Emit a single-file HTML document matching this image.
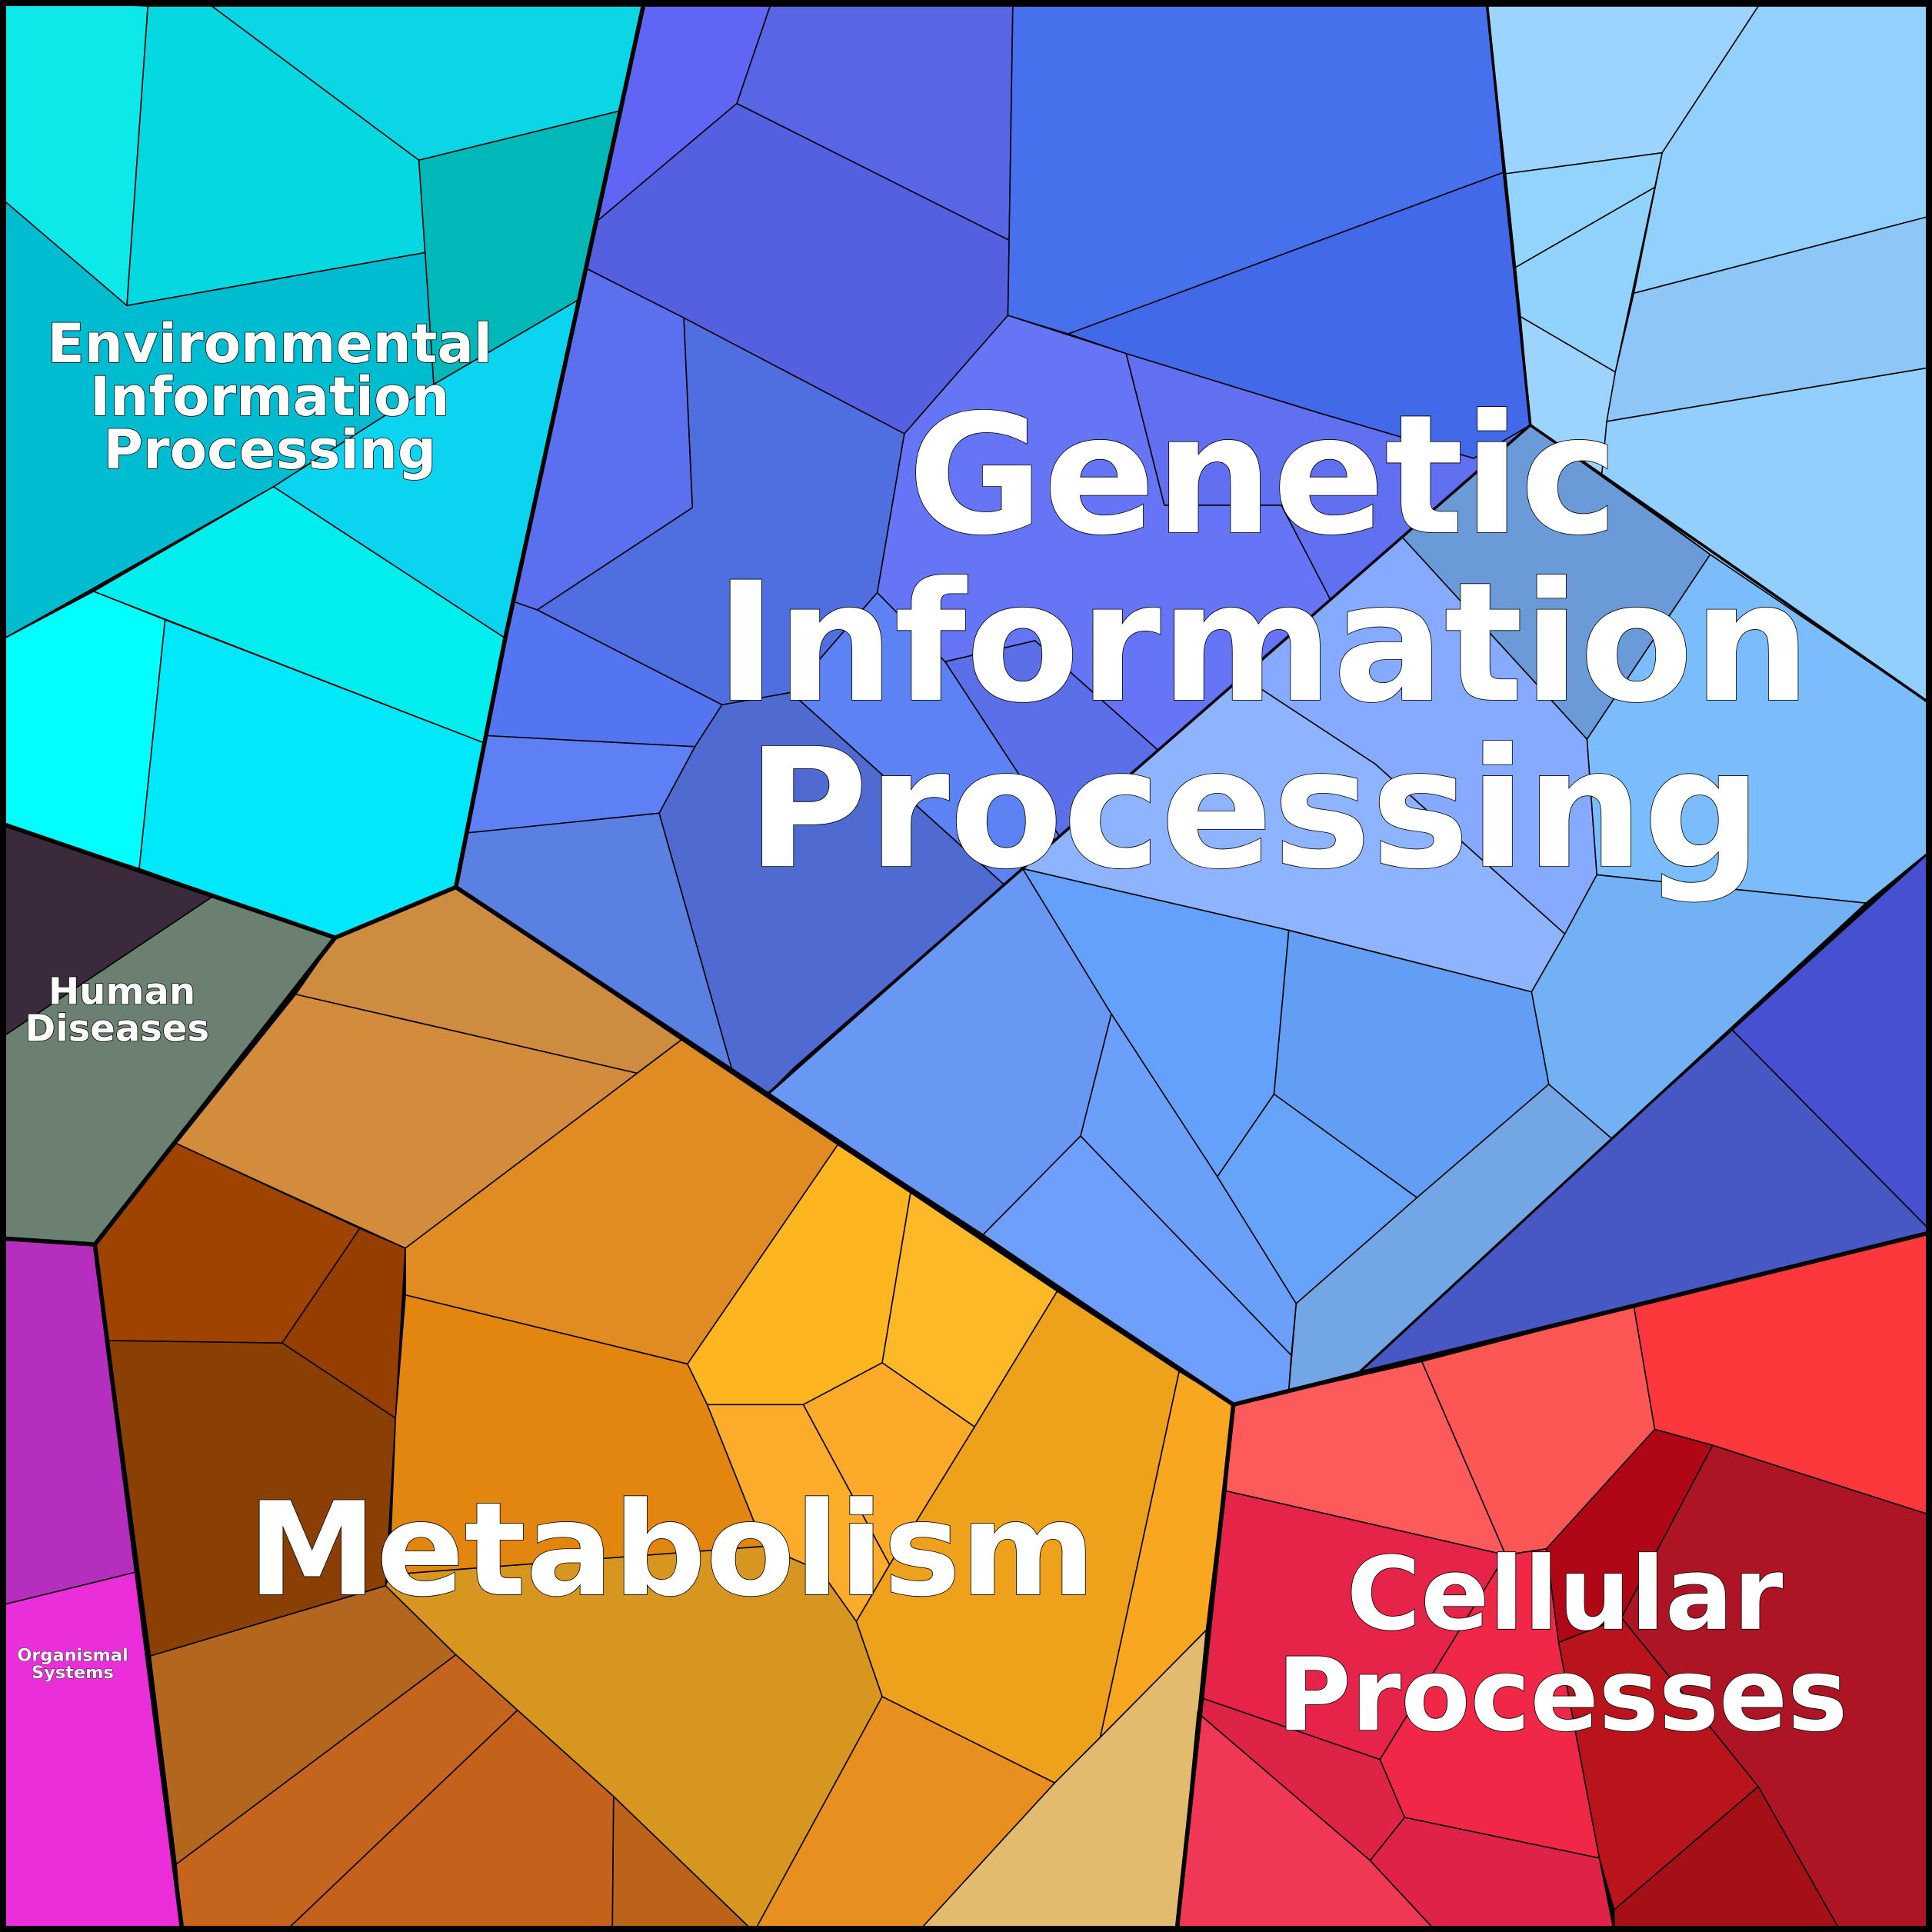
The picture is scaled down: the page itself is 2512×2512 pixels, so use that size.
<!DOCTYPE html>
<html><head><meta charset="utf-8"><style>
html,body{margin:0;padding:0;background:#000}
svg{display:block}
text{font-family:"DejaVu Sans","Liberation Sans",sans-serif;font-weight:bold;fill:#fff;stroke:#000;stroke-width:1;paint-order:stroke;text-anchor:middle}
</style></head><body>
<svg width="2512" height="2512" viewBox="0 0 1568 1568" xmlns="http://www.w3.org/2000/svg">
<g stroke="#000" stroke-width="1" stroke-linejoin="round">
<!-- Environmental -->
<polygon fill="#0de8e8" points="0,0 120,5 103,248 0,160"/>
<polygon fill="#05d8e0" points="120,5 172,5 340,130 345,205 103,248"/>
<polygon fill="#0bd6e6" points="172,5 522,5 503,90 340,130"/>
<polygon fill="#00b8b8" points="340,130 503,90 470,243 352,312"/>
<polygon fill="#00bcd0" points="0,160 103,248 345,205 352,312 222,395 0,520"/>
<polygon fill="#0bd4f0" points="352,312 470,243 410,518 222,395"/>
<polygon fill="#00eeee" points="222,395 410,518 393,603 76,480"/>
<polygon fill="#00ffff" points="0,520 76,480 134,503 113,705 0,668"/>
<polygon fill="#00e8fa" points="134,503 393,603 370,720 272,761 113,705"/>
<!-- Human diseases -->
<polygon fill="#3b2a3b" points="0,668 172,728 0,843"/>
<polygon fill="#6b8070" points="0,843 172,728 272,761 77,1010 0,1005"/>
<!-- Organismal -->
<polygon fill="#b52ebe" points="0,1005 77,1010 110,1276 0,1303"/>
<polygon fill="#ea2ed9" points="0,1303 110,1276 148,1568 0,1568"/>
<!-- Metabolism -->
<polygon fill="#cd8c3f" points="272,761 370,720 553,844 517,871 240,807"/>
<polygon fill="#d38b3c" points="240,807 517,871 553,844 329,1013 143,928"/>
<polygon fill="#9e4300" points="143,928 292,997 229,1090 88,1088 77,1010"/>
<polygon fill="#963d00" points="292,997 329,1013 321,1151 229,1090"/>
<polygon fill="#8a4005" points="88,1088 229,1090 321,1151 313,1287 122,1344"/>
<polygon fill="#e08c22" points="329,1013 553,844 680,929 558,1107 329,1051"/>
<polygon fill="#e3860f" points="329,1051 558,1107 574,1140 620,1255 316,1278 321,1151"/>
<polygon fill="#fdb520" points="680,929 739,968 716,1106 652,1140 574,1140 558,1107"/>
<polygon fill="#fdb928" points="739,968 858,1048 791,1158 716,1106"/>
<polygon fill="#fbac2a" points="574,1140 652,1140 722,1270 695,1316 666,1275 620,1255"/>
<polygon fill="#fda929" points="652,1140 716,1106 791,1158 722,1270"/>
<polygon fill="#eea11a" points="858,1048 957,1113 893,1410 856,1447 716,1377 695,1316 722,1270 791,1158"/>
<polygon fill="#f9a721" points="957,1113 1001,1140 979,1323 893,1410"/>
<polygon fill="#b2661e" points="313,1287 370,1343 143,1513 122,1344"/>
<polygon fill="#d6961f" points="316,1278 620,1255 666,1275 695,1316 716,1377 612,1568 498,1458 370,1343 313,1287"/>
<polygon fill="#c5641c" points="370,1343 420,1388 231,1568 148,1568 143,1513"/>
<polygon fill="#c4621b" points="420,1388 498,1458 497,1568 231,1568"/>
<polygon fill="#bb6318" points="498,1458 612,1568 497,1568"/>
<polygon fill="#e78f1f" points="716,1377 856,1447 745,1568 612,1568"/>
<polygon fill="#e3bb6e" points="856,1447 893,1410 979,1323 955,1568 745,1568"/>
<!-- Genetic (purple/blue) -->
<polygon fill="#6066f3" points="522,5 625,5 598,84 484,180"/>
<polygon fill="#5865e4" points="625,5 822,5 819,195 598,84"/>
<polygon fill="#5460e0" points="484,180 598,84 819,195 818,256 734,352 555,258 476,218"/>
<polygon fill="#4670ec" points="822,5 1207,5 1220,140 867,271 818,256 819,195"/>
<polygon fill="#4169e8" points="867,271 1220,140 1242,345 1196,372 1070,335 914,287"/>
<polygon fill="#5a70ee" points="476,218 555,258 562,412 436,495 416,488"/>
<polygon fill="#4f6ee0" points="555,258 734,352 712,481 642,562 586,572 436,495 562,412"/>
<polygon fill="#5475f2" points="416,488 436,495 586,572 564,606 394,597"/>
<polygon fill="#5d80f5" points="394,597 564,606 535,660 379,676"/>
<polygon fill="#5a80e2" points="379,676 535,660 594,868 623,888 370,720"/>
<polygon fill="#4f6ad0" points="586,572 642,562 815,718 645,866 623,888 594,868 535,660 564,606"/>
<polygon fill="#6675f5" points="734,352 818,256 914,287 945,410 1040,410 1080,487 940,609 840,520 767,537 712,481"/>
<polygon fill="#6070f0" points="914,287 1070,335 1196,372 1242,345 1138,436 1080,487 1040,410 945,410"/>
<polygon fill="#5b6fe8" points="767,537 840,520 940,609 860,679"/>
<polygon fill="#5d82f4" points="642,562 712,481 767,537 860,679 815,718"/>
<!-- right blue -->
<polygon fill="#6b9ad8" points="1242,345 1388,450 1288,600 1138,436"/>
<polygon fill="#85aaff" points="1008,549 1080,487 1138,436 1288,600 1296,710 1270,758 1116,620"/>
<polygon fill="#8eb4ff" points="830,705 860,679 940,609 1008,549 1116,620 1270,758 1243,805 1046,755"/>
<polygon fill="#7bbdfc" points="1388,450 1568,572 1568,690 1515,733 1296,710 1288,600"/>
<polygon fill="#72b2f4" points="1296,710 1515,733 1308,924 1257,880 1243,805 1270,758"/>
<polygon fill="#6898f4" points="623,888 815,718 830,705 902,823 877,922 798,1002"/>
<polygon fill="#63a1fc" points="830,705 1046,755 1034,888 988,955 902,823"/>
<polygon fill="#629ff4" points="1046,755 1243,805 1257,880 1150,972 1034,888"/>
<polygon fill="#6aa0fa" points="902,823 988,955 1052,1058 1048,1100 877,922"/>
<polygon fill="#66a4fa" points="988,955 1034,888 1150,972 1052,1058"/>
<polygon fill="#6e9ffc" points="798,1002 877,922 1048,1100 1046,1128 1001,1140"/>
<polygon fill="#72a6e4" points="1052,1058 1150,972 1257,880 1308,924 1104,1113 1046,1128"/>
<polygon fill="#4758c4" points="1308,924 1406,836 1568,1000 1104,1113"/>
<polygon fill="#4650d0" points="1406,836 1568,690 1568,1000"/>
<!-- top right -->
<polygon fill="#9dd3ff" points="1207,5 1427,5 1349,124 1222,141"/>
<polygon fill="#92d1fd" points="1427,5 1568,5 1568,175 1326,238 1349,124"/>
<polygon fill="#93d4fc" points="1222,141 1349,124 1343,152 1230,217"/>
<polygon fill="#91d3fc" points="1230,217 1343,152 1311,302 1234,257"/>
<polygon fill="#9cd4ff" points="1234,257 1311,302 1300,385 1242,345"/>
<polygon fill="#8ec6f8" points="1326,238 1568,175 1568,298 1304,342 1311,302"/>
<polygon fill="#92cefe" points="1304,342 1568,298 1568,572 1388,450 1300,385"/>
<!-- Cellular -->
<polygon fill="#fd5a5c" points="1001,1140 1154,1105 1222,1262 995,1210"/>
<polygon fill="#fc5655" points="1154,1105 1326,1060 1343,1160 1255,1257 1222,1262"/>
<polygon fill="#fd383c" points="1326,1060 1568,1000 1568,1230 1390,1173 1343,1160"/>
<polygon fill="#e62348" points="995,1210 1222,1262 1120,1428 975,1378"/>
<polygon fill="#dd2447" points="975,1378 1120,1428 1140,1475 1112,1510 972,1390"/>
<polygon fill="#f13756" points="972,1390 1112,1510 1166,1568 955,1568"/>
<polygon fill="#f12748" points="1222,1262 1255,1257 1265,1333 1298,1508 1140,1475 1120,1428"/>
<polygon fill="#df2247" points="1112,1510 1140,1475 1298,1508 1310,1568 1166,1568"/>
<polygon fill="#b00717" points="1255,1257 1343,1160 1390,1173 1316,1313 1265,1333"/>
<polygon fill="#ad1524" points="1390,1173 1568,1230 1568,1568 1494,1568 1427,1450 1316,1313"/>
<polygon fill="#b9141c" points="1265,1333 1316,1313 1427,1450 1310,1550 1298,1508"/>
<polygon fill="#a51016" points="1310,1550 1427,1450 1494,1568 1310,1568"/>
</g>
<g fill="none" stroke="#000" stroke-linejoin="round" stroke-linecap="round">
<polyline stroke-width="2.2" points="1207,5 1242,345 1568,572"/>
<polyline stroke-width="2.2" points="1242,345 815,718 623,888"/>
<polyline stroke-width="2" points="1104,1113 1515,733 1568,690"/>
<polyline stroke-width="3.5" points="522,5 470,243 410,518 370,720 272,761 0,668"/>
<polyline stroke-width="3.5" points="272,761 77,1010 0,1005"/>
<polyline stroke-width="3.5" points="77,1010 148,1568"/>
<polyline stroke-width="3.5" points="370,720 623,888 1001,1140 955,1568"/>
<polyline stroke-width="3.5" points="1001,1140 1568,1000"/>
<rect x="2.5" y="2.5" width="1563" height="1563" stroke-width="5"/>
</g>
<text x="1025" y="432" font-size="134">Genetic</text>
<text x="1025" y="568" font-size="134">Information</text>
<text x="1018" y="703" font-size="134">Processing</text>
<text x="545" y="1294" font-size="105">Metabolism</text>
<text x="1270" y="1322" font-size="82">Cellular</text>
<text x="1268" y="1404" font-size="82">Processes</text>
<text x="219" y="294" font-size="44">Environmental</text>
<text x="219" y="337" font-size="44">Information</text>
<text x="219" y="380" font-size="44">Processing</text>
<text x="99" y="815" font-size="30">Human</text>
<text x="95" y="845" font-size="30">Diseases</text>
<text x="59" y="1348" font-size="14" style="stroke-width:0.5">Organismal</text>
<text x="59" y="1362" font-size="14" style="stroke-width:0.5">Systems</text>
</svg>
</body></html>
